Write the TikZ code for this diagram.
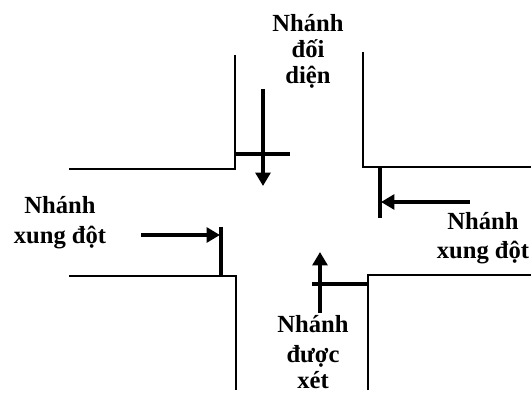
\documentclass[tikz,border=0pt]{standalone}
\usepackage{fontspec}
\setmainfont{Liberation Serif}
\usetikzlibrary{arrows.meta}
\tikzset{
  curb/.style={black,line width=1.4pt},
  stopline/.style={black,line width=2.3pt},
  flow/.style={black,line width=2.3pt,-{Triangle[length=9.5pt,width=10.5pt]}},
  branchlabel/.style={align=center,inner sep=0pt,font=\fontsize{17.5}{18.4}\selectfont\bfseries}
}
\begin{document}
\begin{tikzpicture}[x=0.025cm,y=-0.025cm]

\useasboundingbox (0,0) rectangle (532,394);

% curbs
\draw[curb] (235,55) -- (235,169) -- (69,169);
\draw[curb] (363,52) -- (363,167) -- (531,167);
\draw[curb] (69,276) -- (236,276) -- (236,390);
\draw[curb] (368,390) -- (368,275) -- (531,275);

% stop lines
\draw[stopline] (235,154) -- (290,154);
\draw[stopline] (380,167) -- (380,218);
\draw[stopline] (221,227) -- (221,275);
\draw[stopline] (312,284) -- (368,284);

% traffic flows
\draw[flow] (263,89) -- (263,186);
\draw[flow] (470,202) -- (381,202);
\draw[flow] (141,235) -- (220,235);
\draw[flow] (320,313) -- (320,252);

% labels
\node[branchlabel] (opposite) at (308,51) {Nhánh\\đối\\diện};
\node[branchlabel] (conflictleft) at (60,223) {Nhánh\\[3pt]xung đột};
\node[branchlabel] (conflictright) at (483,238) {Nhánh\\[2pt]xung đột};
\node[branchlabel] (considered) at (313,352) {Nhánh\\[3pt]được\\[0.5pt]xét};

\end{tikzpicture}
\end{document}
